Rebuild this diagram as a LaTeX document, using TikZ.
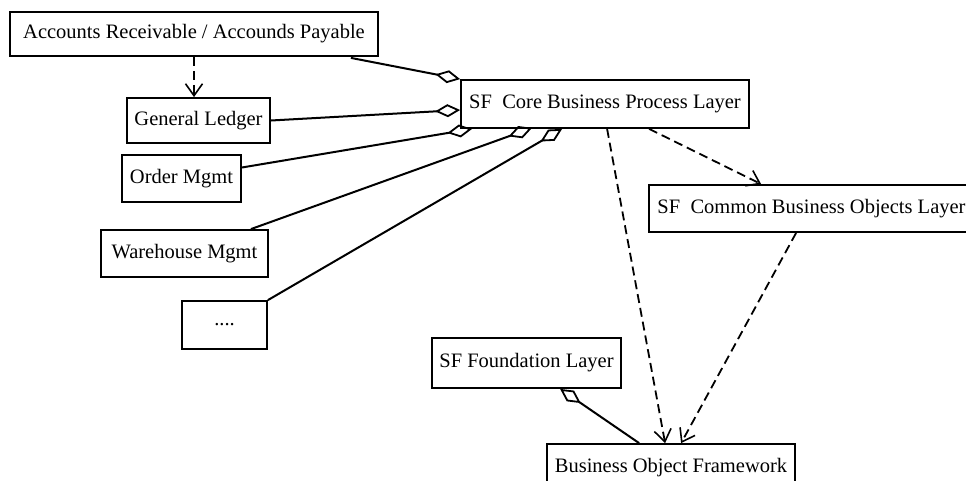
\documentclass[tikz,border=0pt]{standalone}
\usepackage{fontspec}
\setmainfont{Liberation Serif}
\usetikzlibrary{arrows.meta,calc}

\begin{document}
\begin{tikzpicture}[x=1pt,y=-1pt,
    layerbox/.style={draw,line width=1.8pt,inner sep=0pt,font=\fontsize{20.5}{24}\selectfont},
    aggr/.style={line width=2pt,-{Diamond[open,length=25pt,width=13pt,line width=1.8pt]}},
    dep/.style={line width=1.8pt,dash pattern=on 9pt off 5pt,-{Straight Barb[length=12pt,width=17pt,line width=1.6pt]}}]
  \clip (0,0) rectangle (966,480);
  % boxes
  \node[layerbox,minimum width=368pt,minimum height=44pt] (acc) at (194,34) {Accounts Receivable / Accounds Payable};
  \node[layerbox,minimum width=143pt,minimum height=45pt] (gl) at (198.5,120.5) {General Ledger};
  \node[layerbox,minimum width=119pt,minimum height=47pt] (order) at (181.5,178.5) {Order Mgmt};
  \node[layerbox,minimum width=167pt,minimum height=47pt] (wh) at (184.5,253.5) {Warehouse Mgmt};
  \node[layerbox,minimum width=85pt,minimum height=48pt] (dots) at (224.5,325) {....};
  \node[layerbox,minimum width=288pt,minimum height=48pt] (core) at (605,104) {SF~~Core Business Process Layer};
  \node[layerbox,minimum width=325pt,minimum height=47pt] (common) at (811.5,208.5) {SF~~Common Business Objects Layer};
  \node[layerbox,minimum width=189pt,minimum height=50pt] (found) at (526.5,363) {SF Foundation Layer};
  \node[layerbox,minimum width=248pt,minimum height=47pt] (bof) at (671,467.5) {Business Object Framework};
  % aggregations into the core layer
  \draw[aggr] ($(acc.south east)+(-28,1)$) -- (core.north west);
  \draw[aggr] (gl.east) -- ($(core.west)+(0,6)$);
  \draw[aggr] ($(order.east)+(0,-11)$) -- ($(core.south west)+(12,0)$);
  \draw[aggr] ($(wh.north east)+(-18,0)$) -- ($(core.south west)+(72,-1)$);
  \draw[aggr] (dots.north east) -- ($(core.south west)+(102,0)$);
  \draw[aggr] ($(bof.north west)+(93,0)$) -- ($(found.south west)+(129,0)$);
  % dependencies
  \draw[dep] (acc.south) -- (acc.south |- gl.north);
  \draw[dep] ($(core.south west)+(189,0)$) -- ($(common.north west)+(113,0)$);
  \draw[dep] ($(core.south west)+(147,0)$) -- ($(bof.north west)+(119,0)$);
  \draw[dep] ($(common.south west)+(148,0)$) -- ($(bof.north west)+(135,0)$);
\end{tikzpicture}
\end{document}
